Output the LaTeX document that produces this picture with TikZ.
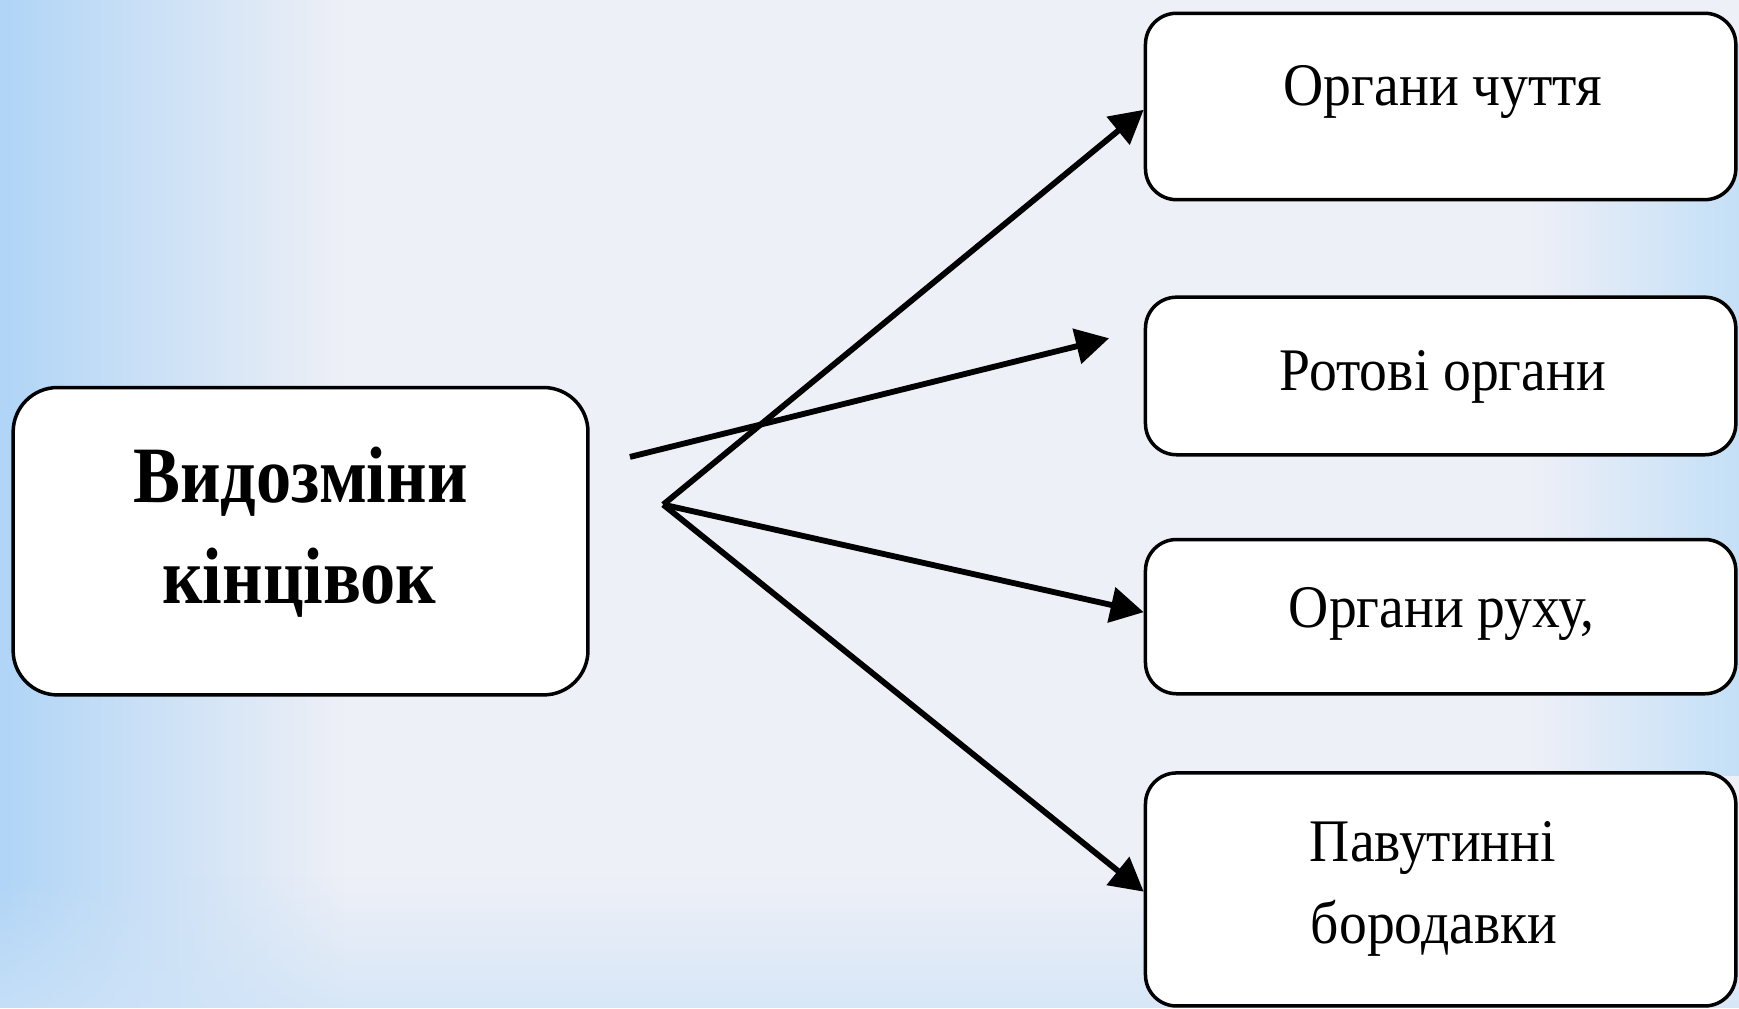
\documentclass[tikz,border=0pt]{standalone}
\usepackage{fontspec}
\setmainfont{Liberation Serif}
\newfontfamily\condfont[FakeStretch=0.92]{Liberation Serif}
\newfontfamily\condbold[FakeStretch=0.88]{Liberation Serif Bold}
\usetikzlibrary{arrows.meta,fadings}
\definecolor{bgmid}{RGB}{238,240,247}
\definecolor{bgblue}{RGB}{176,213,246}
\definecolor{bgband}{RGB}{206,227,248}
\definecolor{bgright}{RGB}{196,224,248}
\tikzfading[name=fadetoright, left color=transparent!0, right color=transparent!100]
\tikzfading[name=fadetoleft, left color=transparent!100, right color=transparent!0]
\tikzfading[name=fadeband, top color=transparent!100, middle color=transparent!15, bottom color=transparent!100]
\tikzfading[name=fadeup, top color=transparent!100, bottom color=transparent!30]
\begin{document}
\begin{tikzpicture}[x=0.01cm,y=-0.01cm,
  box/.style={draw=black, line width=0.9pt, fill=white, rounded corners=0.28cm},
  bigbox/.style={draw=black, line width=0.9pt, fill=white, rounded corners=0.4cm},
  arr/.style={draw=black, line width=1.5pt, -{Triangle[length=8.5pt,width=9pt]}},
  txt/.style={font=\fontsize{15.5}{18}\condfont, anchor=base, inner sep=0pt},
  bigtxt/.style={font=\fontsize{20.5}{24}\condbold, anchor=base, inner sep=0pt}]
\useasboundingbox (0,0) rectangle (1568,909);
% background
\fill[bgmid] (0,0) rectangle (1568,909);
\fill[bgblue, path fading=fadetoright] (0,0) rectangle (310,909);
\fill[bgband, path fading=fadeband] (0,640) rectangle (1568,820);
\fill[bgband, path fading=fadeup] (0,790) rectangle (1568,909);
\fill[bgright, path fading=fadetoleft] (1380,40) rectangle (1568,700);
% boxes
\node[bigbox, minimum width=5.18cm, minimum height=2.77cm] (src) at (271,488) {};
\node[bigtxt] (srct1) at (271,453) {Видозміни};
\node[bigtxt] (srct2) at (270,544) {кінцівок};
\node[box, minimum width=5.32cm, minimum height=1.68cm] (b1) at (1299,96) {};
\node[txt] (t1) at (1301,95) {Органи чуття};
\node[box, minimum width=5.32cm, minimum height=1.42cm] (b2) at (1299,339) {};
\node[txt] (t2) at (1301,352) {Ротові органи};
\node[box, minimum width=5.32cm, minimum height=1.39cm] (b3) at (1299,556) {};
\node[txt] (t3) at (1300,566) {Органи руху,};
\node[box, minimum width=5.32cm, minimum height=2.10cm] (b4) at (1299,802) {};
\node[txt] (t4a) at (1292,777) {Павутинні};
\node[txt] (t4b) at (1293,851) {бородавки};
% connectors
\coordinate (v) at (598,455);
\coordinate (a2s) at (568,412);
\coordinate (a2e) at (1000,305);
\path (b1.west) ++(0,3) coordinate (e1);
\path (b3.west) ++(0,-4) coordinate (e3);
\path (b4.west) ++(0,2) coordinate (e4);
\draw[arr] (a2s) -- (a2e);
\draw[arr] (v) -- (e1);
\draw[arr] (v) -- (e3);
\draw[arr] (v) -- (e4);
\end{tikzpicture}
\end{document}
